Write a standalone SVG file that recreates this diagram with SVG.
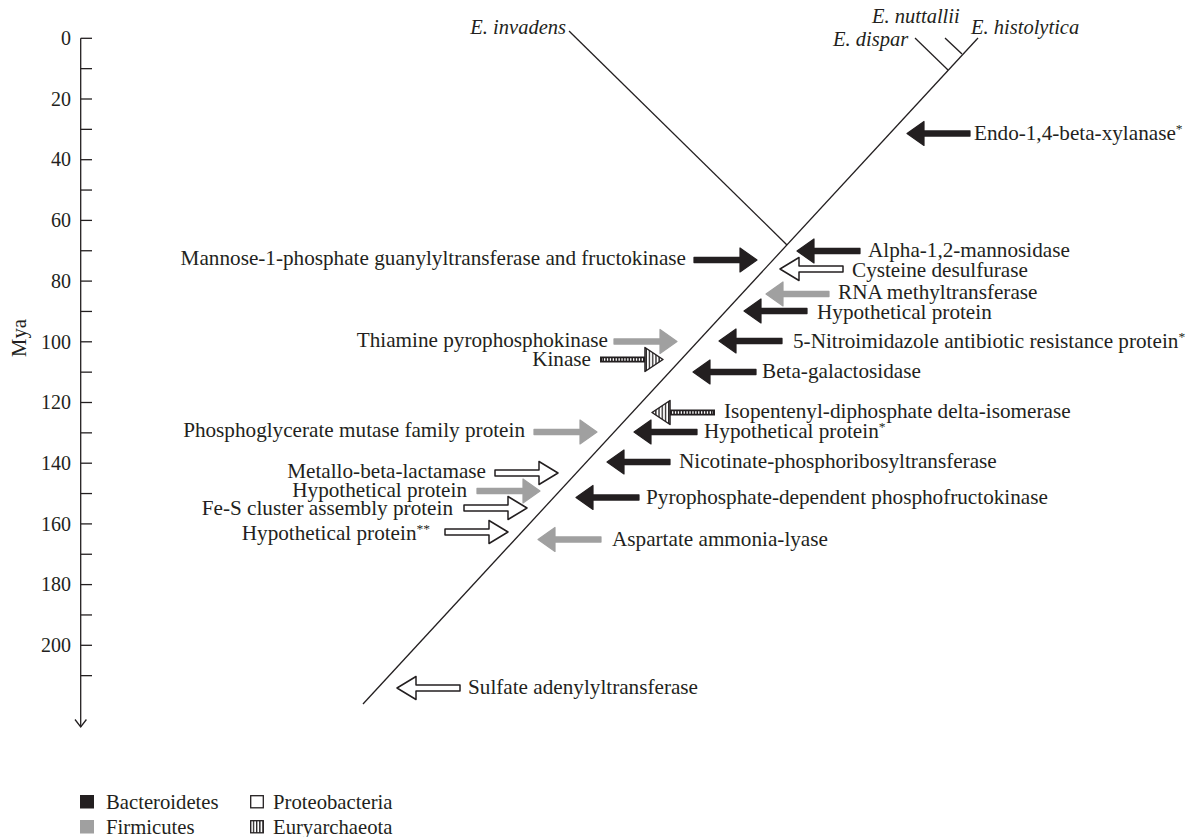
<svg xmlns="http://www.w3.org/2000/svg" width="1192" height="837" viewBox="0 0 1192 837">
<style>
text{font-family:"Liberation Serif","Times New Roman",serif;font-size:21.2px;fill:#231f20}
.it{font-style:italic;font-size:20.5px}
.tk{font-size:20px;text-anchor:end}
.lg{font-size:20.7px}
.end{text-anchor:end}
.tree line,.axis line,.axis path{stroke:#231f20;stroke-width:1.3;fill:none}
.blk{fill:#231f20;stroke:#231f20;stroke-width:1.2;stroke-linejoin:round}
.gry{fill:#a0a0a0;stroke:#a0a0a0;stroke-width:1.2;stroke-linejoin:round}
.hol{fill:#fff;stroke:#231f20;stroke-width:1.5;stroke-linejoin:round}
.sup{font-size:13.5px}
</style>
<defs>
<pattern id="vs" width="3.2" height="10" patternUnits="userSpaceOnUse">
<rect width="3.2" height="10" fill="#fff"/>
<rect width="1.3" height="10" fill="#231f20"/>
</pattern>
<path id="solid" d="M0,0 L17,-12 L17,-2.6 L63,-2.6 L63,2.6 L17,2.6 L17,12 Z"/>
<path id="hollow" d="M0,0 L19,-11.5 L19,-3 L63,-3 L63,3 L19,3 L19,11.5 Z"/>
<g id="hatch">
<rect x="17" y="-3" width="46" height="6" fill="#231f20"/>
<line x1="20" y1="0" x2="61" y2="0" stroke="#fff" stroke-width="2.4" stroke-dasharray="1.3 1.6"/>
<path d="M0,0 L18,-12 L18,12 Z" fill="url(#vs)" stroke="#231f20" stroke-width="1.5" stroke-linejoin="round"/>
</g>
</defs>

<g id="axis" class="axis">
<line x1="80.7" y1="38.3" x2="80.7" y2="727"/>
<path d="M75,719.5 L80.7,727 L86.4,719.5"/>
<line x1="80.7" y1="38.3" x2="92" y2="38.3"/>
<line x1="80.7" y1="68.65" x2="92" y2="68.65"/>
<line x1="80.7" y1="99" x2="92" y2="99"/>
<line x1="80.7" y1="129.35" x2="92" y2="129.35"/>
<line x1="80.7" y1="159.7" x2="92" y2="159.7"/>
<line x1="80.7" y1="190.05" x2="92" y2="190.05"/>
<line x1="80.7" y1="220.4" x2="92" y2="220.4"/>
<line x1="80.7" y1="250.75" x2="92" y2="250.75"/>
<line x1="80.7" y1="281.1" x2="92" y2="281.1"/>
<line x1="80.7" y1="311.45" x2="92" y2="311.45"/>
<line x1="80.7" y1="341.8" x2="92" y2="341.8"/>
<line x1="80.7" y1="372.15" x2="92" y2="372.15"/>
<line x1="80.7" y1="402.5" x2="92" y2="402.5"/>
<line x1="80.7" y1="432.85" x2="92" y2="432.85"/>
<line x1="80.7" y1="463.2" x2="92" y2="463.2"/>
<line x1="80.7" y1="493.55" x2="92" y2="493.55"/>
<line x1="80.7" y1="523.9" x2="92" y2="523.9"/>
<line x1="80.7" y1="554.25" x2="92" y2="554.25"/>
<line x1="80.7" y1="584.6" x2="92" y2="584.6"/>
<line x1="80.7" y1="614.95" x2="92" y2="614.95"/>
<line x1="80.7" y1="645.3" x2="92" y2="645.3"/>
<line x1="80.7" y1="675.65" x2="92" y2="675.65"/>
<text class="tk" x="71" y="45">0</text>
<text class="tk" x="71" y="105.7">20</text>
<text class="tk" x="71" y="166.4">40</text>
<text class="tk" x="71" y="227.1">60</text>
<text class="tk" x="71" y="287.8">80</text>
<text class="tk" x="71" y="348.5">100</text>
<text class="tk" x="71" y="409.2">120</text>
<text class="tk" x="71" y="469.9">140</text>
<text class="tk" x="71" y="530.6">160</text>
<text class="tk" x="71" y="591.3">180</text>
<text class="tk" x="71" y="652">200</text>
<text class="lg" transform="translate(26,338) rotate(-90)" text-anchor="middle">Mya</text>
</g>

<g id="tree" class="tree">
<line x1="363" y1="704" x2="978" y2="38"/>
<line x1="569" y1="31" x2="787" y2="245"/>
<line x1="915" y1="38" x2="948" y2="70"/>
<line x1="945" y1="38" x2="962" y2="54"/>
</g>
<g id="species">
<text class="it end" x="566" y="34">E. invadens</text>
<text class="it" x="872" y="23">E. nuttallii</text>
<text class="it" x="833" y="46">E. dispar</text>
<text class="it" x="971" y="34">E. histolytica</text>
</g>

<g id="connectors">
<use href="#solid" class="blk" transform="translate(907,133.5)"/>
<use href="#solid" class="blk" transform="translate(797,251)"/>
<use href="#hollow" class="hol" transform="translate(780,269)"/>
<use href="#solid" class="gry" transform="translate(766,294)"/>
<use href="#solid" class="blk" transform="translate(744,311)"/>
<use href="#solid" class="blk" transform="translate(719,341)"/>
<use href="#solid" class="blk" transform="translate(693,372)"/>
<use href="#hatch" transform="translate(652,412.5)"/>
<use href="#solid" class="blk" transform="translate(634,432)"/>
<use href="#solid" class="blk" transform="translate(607,462)"/>
<use href="#solid" class="blk" transform="translate(576,497.5)"/>
<use href="#solid" class="gry" transform="translate(538,539.5)"/>
<use href="#hollow" class="hol" transform="translate(397,688)"/>
<use href="#solid" class="blk" transform="translate(757,260) scale(-1,1)"/>
<use href="#solid" class="gry" transform="translate(677,341.5) scale(-1,1)"/>
<use href="#hatch" transform="translate(663,359.5) scale(-1,1)"/>
<use href="#solid" class="gry" transform="translate(597,432) scale(-1,1)"/>
<use href="#hollow" class="hol" transform="translate(558,473) scale(-1,1)"/>
<use href="#solid" class="gry" transform="translate(540,491) scale(-1,1)"/>
<use href="#hollow" class="hol" transform="translate(527,508) scale(-1,1)"/>
<use href="#hollow" class="hol" transform="translate(508,532) scale(-1,1)"/>
</g>

<g id="labels">
<g id="n-endo"><text x="974" y="140">Endo-1,4-beta-xylanase<tspan class="sup" dy="-7.5">*</tspan></text></g>
<g id="n-alpha"><text x="868" y="257">Alpha-1,2-mannosidase</text></g>
<g id="n-cys"><text x="852" y="276.5">Cysteine desulfurase</text></g>
<g id="n-rna"><text x="838" y="299">RNA methyltransferase</text></g>
<g id="n-hyp1"><text x="817" y="318.5">Hypothetical protein</text></g>
<g id="n-nitro"><text x="793" y="348">5-Nitroimidazole antibiotic resistance protein<tspan class="sup" dy="-7.5">*</tspan></text></g>
<g id="n-beta"><text x="762" y="378">Beta-galactosidase</text></g>
<g id="n-iso"><text x="724" y="418">Isopentenyl-diphosphate delta-isomerase</text></g>
<g id="n-hyp2"><text x="704" y="438">Hypothetical protein<tspan class="sup" dy="-7.5">*</tspan></text></g>
<g id="n-nic"><text x="679" y="468">Nicotinate-phosphoribosyltransferase</text></g>
<g id="n-pyro"><text x="646" y="504">Pyrophosphate-dependent phosphofructokinase</text></g>
<g id="n-asp"><text x="612" y="546">Aspartate ammonia-lyase</text></g>
<g id="n-sulf"><text x="468" y="694">Sulfate adenylyltransferase</text></g>
<g id="n-mann"><text class="end" x="686" y="265">Mannose-1-phosphate guanylyltransferase and fructokinase</text></g>
<g id="n-thia"><text class="end" x="608" y="347">Thiamine pyrophosphokinase</text></g>
<g id="n-kin"><text class="end" x="591" y="366">Kinase</text></g>
<g id="n-pgm"><text class="end" x="525" y="437">Phosphoglycerate mutase family protein</text></g>
<g id="n-met"><text class="end" x="486" y="478">Metallo-beta-lactamase</text></g>
<g id="n-hyp3"><text class="end" x="467" y="497">Hypothetical protein</text></g>
<g id="n-fes"><text class="end" x="453" y="515">Fe-S cluster assembly protein</text></g>
<g id="n-hyp4"><text class="end" x="430" y="540">Hypothetical protein<tspan class="sup" dy="-7.5">**</tspan></text></g>
</g>

<g id="legend">
<rect x="80" y="795" width="14" height="13.5" fill="#231f20"/>
<text class="lg" x="106" y="809">Bacteroidetes</text>
<rect x="80" y="820" width="14" height="13.5" fill="#a0a0a0"/>
<text class="lg" x="106" y="834">Firmicutes</text>
<rect x="250.7" y="795.7" width="12.6" height="12.1" fill="#fff" stroke="#231f20" stroke-width="1.3"/>
<text class="lg" x="273" y="809">Proteobacteria</text>
<rect x="250.7" y="820.7" width="12.6" height="12.1" fill="url(#vs)" stroke="#231f20" stroke-width="1.3"/>
<text class="lg" x="273" y="834">Euryarchaeota</text>
</g>
</svg>
